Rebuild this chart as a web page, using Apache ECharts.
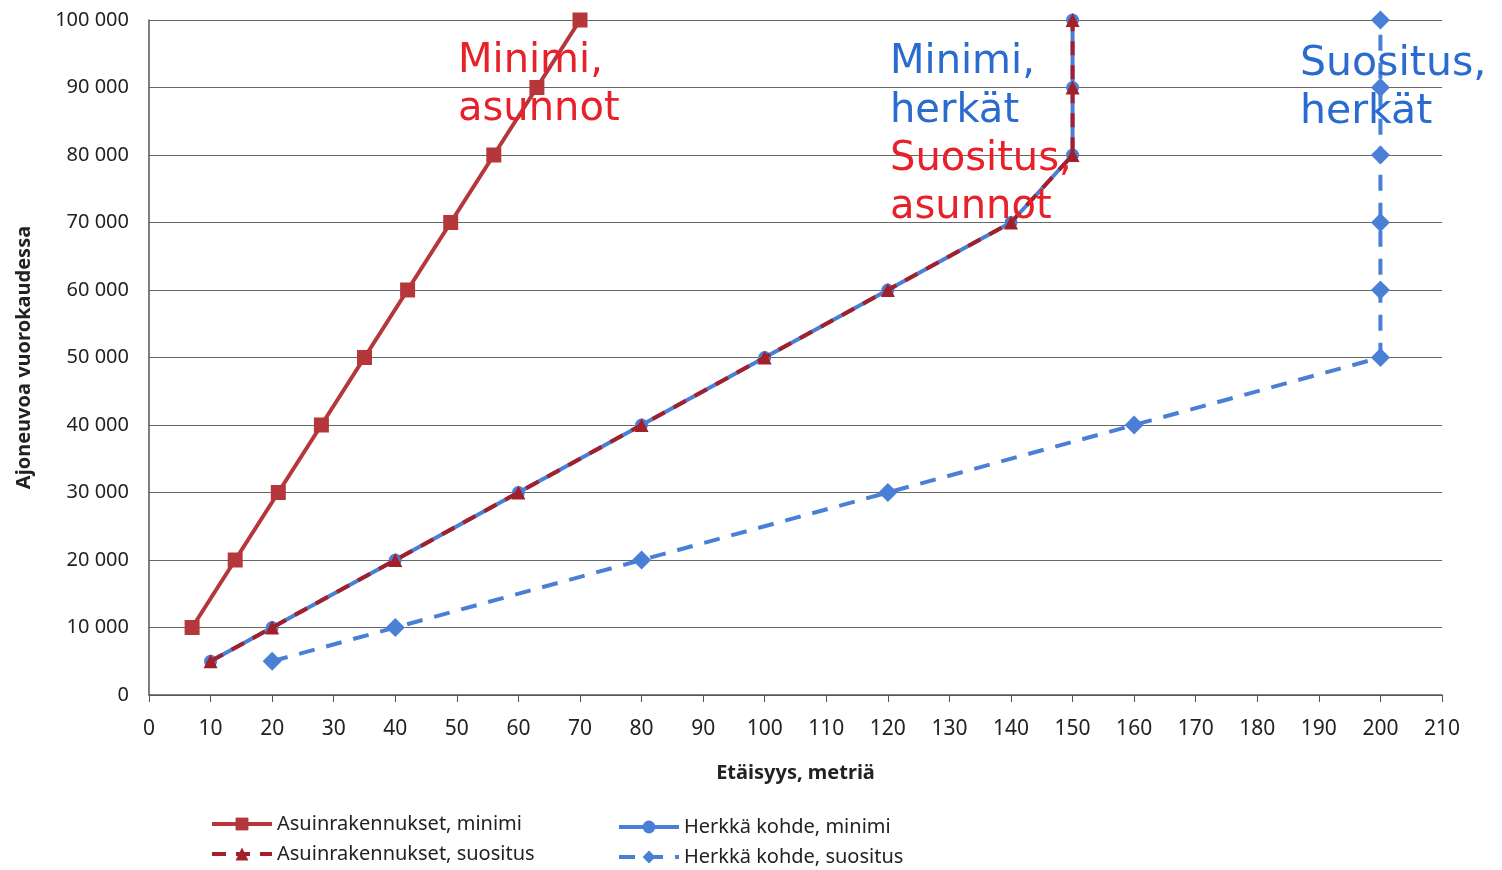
<!DOCTYPE html>
<html>
<head>
<meta charset="utf-8">
<script src="https://cdn.jsdelivr.net/npm/echarts@6/dist/echarts.min.js"></script>
<style>
  html, body { margin: 0; padding: 0; background: #fff; }
  #main { width: 1502px; height: 870px; }
</style>
</head>
<body>
<div id="main"></div>
<script>
// data
var asuinMinimiX = [7, 14, 21, 28, 35, 42, 49, 56, 63, 70];
var asuinMinimiY = [10000, 20000, 30000, 40000, 50000, 60000, 70000, 80000, 90000, 100000];
var asuinSuositusX = [10, 20, 40, 60, 80, 100, 120, 140, 150, 150, 150];
var asuinSuositusY = [5000, 10000, 20000, 30000, 40000, 50000, 60000, 70000, 80000, 90000, 100000];
var herkkaMinimiX = [10, 20, 40, 60, 80, 100, 120, 140, 150, 150, 150];
var herkkaMinimiY = [5000, 10000, 20000, 30000, 40000, 50000, 60000, 70000, 80000, 90000, 100000];
var herkkaSuositusX = [20, 40, 80, 120, 160, 200, 200, 200, 200, 200, 200];
var herkkaSuositusY = [5000, 10000, 20000, 30000, 40000, 50000, 60000, 70000, 80000, 90000, 100000];
var seriesNames = ['Asuinrakennukset, minimi', 'Asuinrakennukset, suositus', 'Herkkä kohde, minimi', 'Herkkä kohde, suositus'];

function pairs(xs, ys) {
    var out = [];
    for (var i = 0; i < xs.length; i++) out.push([xs[i], ys[i]]);
    return out;
}

var chart = echarts.init(document.getElementById('main'));

var red = '#b5373b';
var darkRed = '#a3202a';
var blue = '#4a7fd6';
var txtFont = '"DejaVu Sans", sans-serif';

var legendBase = {
    orient: 'vertical', itemGap: 10, height: 70,
    itemWidth: 60, itemHeight: 16,
    lineStyle: { width: 4 },
    textStyle: { fontSize: 20, color: '#222' }
};

var option = {
    animation: false,
    backgroundColor: '#fff',
    textStyle: { fontFamily: 'Noto Sans, sans-serif' },
    grid: { left: 149, right: 60, top: 20, bottom: 175, containLabel: false },
    xAxis: {
        type: 'value', min: 0, max: 210, interval: 10,
        name: 'Etäisyys, metriä', nameLocation: 'middle', nameGap: 68,
        nameTextStyle: { fontSize: 20, fontWeight: 'bold', color: '#222' },
        axisLine: { show: true, lineStyle: { color: '#555', width: 1.5 } },
        axisTick: { show: true, length: 7, lineStyle: { color: '#555' } },
        axisLabel: { fontSize: 21, color: '#222', margin: 24 },
        splitLine: { show: false }
    },
    yAxis: {
        type: 'value', min: 0, max: 100000, interval: 10000,
        name: 'Ajoneuvoa vuorokaudessa', nameLocation: 'middle', nameGap: 115,
        nameTextStyle: { fontSize: 20, fontWeight: 'bold', color: '#222' },
        axisLine: { show: true, lineStyle: { color: '#555', width: 1.5 } },
        axisTick: { show: false },
        axisLabel: {
            fontSize: 20, color: '#222', margin: 20,
            formatter: function (v) {
                return String(v).replace(/\B(?=(\d{3})+(?!\d))/g, ' ');
            }
        },
        splitLine: { show: true, lineStyle: { color: '#666', width: 1.2 } }
    },
    legend: [
        Object.assign({ data: [seriesNames[0], seriesNames[1]], left: 205, top: 809 }, legendBase),
        Object.assign({ data: [seriesNames[2], seriesNames[3]], left: 612, top: 812 }, legendBase)
    ],
    series: [{
        name: seriesNames[0], type: 'line', z: 4,
        data: pairs(asuinMinimiX, asuinMinimiY),
        symbol: 'rect', symbolSize: 15,
        lineStyle: { color: red, width: 4 },
        itemStyle: { color: red }
    }, {
        name: seriesNames[1], type: 'line', z: 3,
        data: pairs(asuinSuositusX, asuinSuositusY),
        symbol: 'triangle', symbolSize: 14,
        lineStyle: { color: darkRed, width: 4, type: [14, 10] },
        itemStyle: { color: darkRed }
    }, {
        name: seriesNames[2], type: 'line', z: 2,
        data: pairs(herkkaMinimiX, herkkaMinimiY),
        symbol: 'circle', symbolSize: 13,
        lineStyle: { color: blue, width: 4 },
        itemStyle: { color: blue }
    }, {
        name: seriesNames[3], type: 'line', z: 2,
        data: pairs(herkkaSuositusX, herkkaSuositusY),
        symbol: 'diamond', symbolSize: 19,
        lineStyle: { color: blue, width: 4, type: [16, 12] },
        itemStyle: { color: blue }
    }],
    // annotations on top of the plot
    graphic: [
        { type: 'text', left: 458, top: 38, z: 100, style: { text: 'Minimi,\nasunnot', fill: '#e8202a', font: '40px ' + txtFont, lineHeight: 48 } },
        { type: 'text', left: 890, top: 38, z: 100, style: { text: 'Minimi,\nherkät', fill: '#2a6bd0', font: '40px ' + txtFont, lineHeight: 49 } },
        { type: 'text', left: 890, top: 136, z: 100, style: { text: 'Suositus,\nasunnot', fill: '#e8202a', font: '40px ' + txtFont, lineHeight: 48 } },
        { type: 'text', left: 1300, top: 40, z: 100, style: { text: 'Suositus,\nherkät', fill: '#2a6bd0', font: '41px ' + txtFont, lineHeight: 48 } }
    ]
};

chart.setOption(option);
</script>
</body>
</html>
